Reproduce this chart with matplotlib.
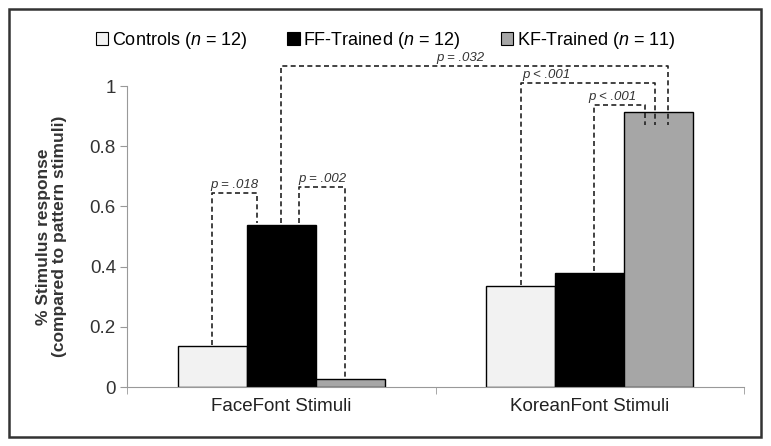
import matplotlib
matplotlib.use("Agg")
import matplotlib.pyplot as plt
from matplotlib.patches import Patch, Rectangle
import numpy as np

# datos
categorias = ["FaceFont Stimuli", "KoreanFont Stimuli"]
grupos = ["Controls", "FF-Trained", "KF-Trained"]
n_grupo = [12, 12, 11]
controls = [0.135, 0.335]
ff_trained = [0.54, 0.38]
kf_trained = [0.025, 0.915]

# comparaciones: (x izq, x der, y arriba, y pie izq, y pie der, texto, x texto)
brackets = [
    (-0.224, -0.078, 0.645, 0.14, 0.545, "p = .018", -0.151),
    (0.058, 0.208, 0.665, 0.545, 0.03, "p = .002", 0.133),
    (0.0, 1.253, 1.066, 0.545, 0.87, "p = .032", 0.58),
    (0.776, 1.211, 1.01, 0.34, 0.87, "p < .001", 0.86),
    (1.013, 1.178, 0.937, 0.385, 0.87, "p < .001", 1.075),
]

plt.rcParams["font.family"] = ["Liberation Sans", "DejaVu Sans"]
narrow = ["Liberation Sans Narrow", "Liberation Sans", "DejaVu Sans"]
plt.rcParams["mathtext.fontset"] = "custom"
plt.rcParams["mathtext.rm"] = "Liberation Sans"
plt.rcParams["mathtext.it"] = "Liberation Sans:italic"

fig = plt.figure(figsize=(7.71, 4.46), dpi=100)
ax = fig.add_axes([127 / 771, 59 / 446, 617 / 771, 331 / 446])

x = np.arange(len(categorias))
w = 0.224
colores = ["#f2f2f2", "#000000", "#a6a6a6"]
for i, vals in enumerate([controls, ff_trained, kf_trained]):
    ax.bar(x + (i - 1) * w, vals, w, color=colores[i], edgecolor="black", linewidth=1, zorder=2)

dash = dict(color="#222222", linestyle=(0, (3, 2)), linewidth=1.2, zorder=3)
for x0, x1, top, y0, y1, txt, xt in brackets:
    ax.plot([x0, x0, x1, x1], [y0, top, top, y1], **dash)
    ax.text(xt, top + 0.006, txt, ha="center", va="bottom", fontsize=9.5,
            style="italic", color="#333333", family=narrow, zorder=4)

ax.set_xlim(-0.5, 1.5)
ax.set_ylim(0, 1.1)
ax.set_yticks([0, 0.2, 0.4, 0.6, 0.8, 1.0])
ax.set_yticklabels(["0", "0.2", "0.4", "0.6", "0.8", "1"])
ax.set_xticks(x)
ax.set_xticklabels(categorias)
ax.set_xticks([-0.5, 0.5, 1.5], minor=True)
ax.tick_params(axis="x", which="major", length=0, pad=8, labelsize=13.5, labelcolor="#222222")
ax.tick_params(axis="x", which="minor", length=5, color="#999999")
ax.tick_params(axis="y", length=5, pad=3, color="#999999", labelsize=13.5, labelcolor="#333333")
for s in ["top", "right"]:
    ax.spines[s].set_visible(False)
for s in ["left", "bottom"]:
    ax.spines[s].set_color("#999999")
ax.spines["left"].set_bounds(0, 1)

ax.set_ylabel("% Stimulus response\n(compared to pattern stimuli)", fontsize=12.5,
              fontweight="bold", color="#333333", linespacing=1.1)
ax.yaxis.set_label_coords(-0.097, 0.455)

handles = [Patch(facecolor=colores[i], edgecolor="black", linewidth=0.8,
                 label=grupos[i] + " ($\\mathit{n}$ = %d)" % n_grupo[i]) for i in range(3)]
fig.legend(handles=handles, loc="center", bbox_to_anchor=(0.5, 0.91), ncol=3,
           frameon=False, handlelength=0.7, handleheight=0.7, handletextpad=0.2,
           columnspacing=2.2, prop={"family": narrow, "size": 13})

fig.patches.append(Rectangle((9 / 771, 9 / 446), 752 / 771, 428 / 446, transform=fig.transFigure,
                             fill=False, edgecolor="#333333", linewidth=1.8))

fig.savefig("out.png", dpi=100)
